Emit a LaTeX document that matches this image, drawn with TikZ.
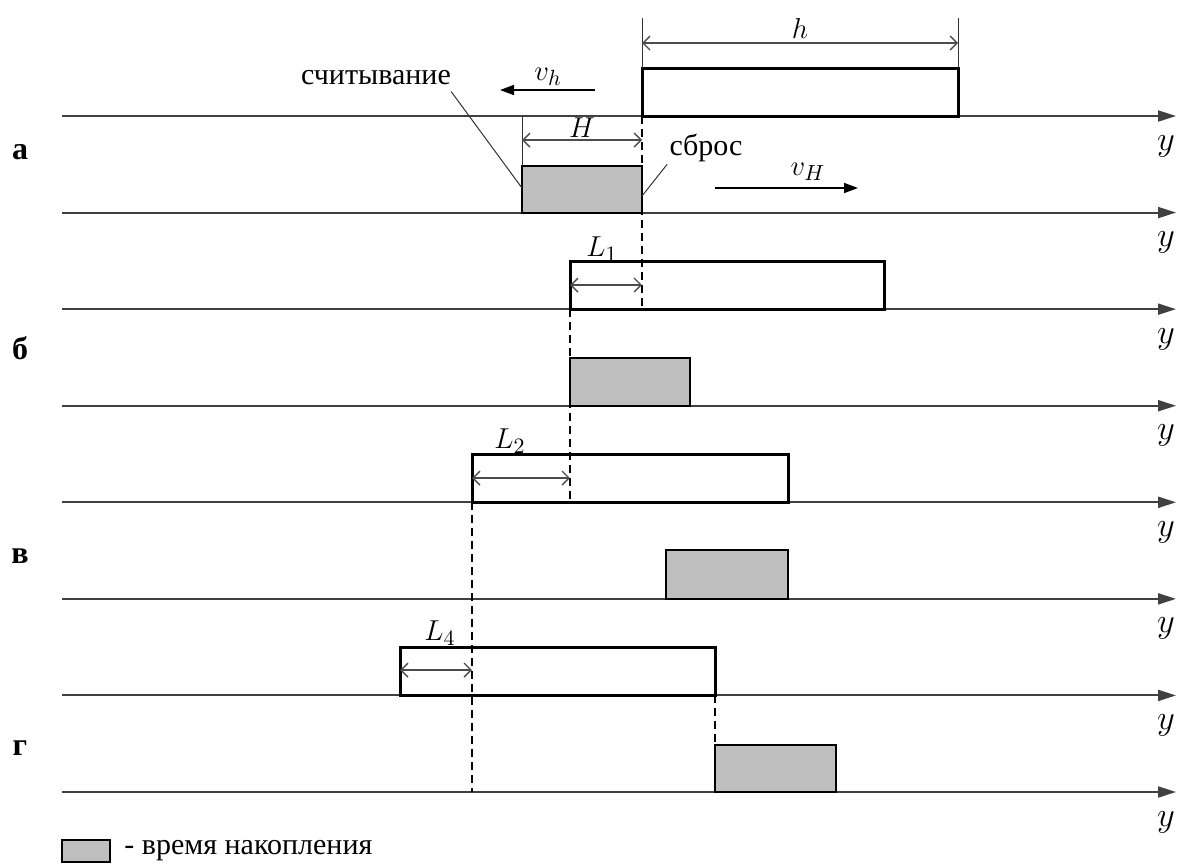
\documentclass[tikz,border=0pt]{standalone}
\usepackage{fontspec}
\setmainfont{Liberation Serif}
\usetikzlibrary{arrows.meta, positioning, calc}

\begin{document}
\begin{tikzpicture}[
    x=0.5pt, y=-0.5pt,
    every node/.style={font=\fontsize{15}{18}\selectfont, inner sep=1pt, text=black},
    axis/.style={line width=1pt, black!75, -{Triangle[length=9pt, width=5.5pt]}},
    window/.style={draw, line width=1.5pt},
    accum/.style={draw, line width=0.7pt, fill=black!25},
    dim/.style={{Straight Barb[length=3.5pt]}-{Straight Barb[length=3.5pt]}, line width=0.7pt, black!70},
    speed/.style={line width=0.8pt, -{Triangle[length=7pt, width=5pt]}},
    guide/.style={dash pattern=on 4pt off 2.5pt, line width=0.7pt},
    leader/.style={line width=0.5pt, black!80},
    rowlabel/.style={font=\fontsize{16}{18}\selectfont\bfseries},
    axlabel/.style={font=\fontsize{16}{18}\selectfont}
]
\useasboundingbox (0,0) rectangle (1186,864);

% Axes with y labels
\foreach \i in {0,...,7} {
    \coordinate (ax\i) at (62,{116+96.57*\i});
    \coordinate (ae\i) at (1176,{116+96.57*\i});
    \draw[axis] (ax\i) -- (ae\i);
    \node[axlabel] (ylab\i) at (1166,{146+96.57*\i}) {$y$};
}

% Row labels
\node[rowlabel] (rowa) at (20,152) {а};
\node[rowlabel] (rowb) at (20,348) {б};
\node[rowlabel] (rowv) at (20,556) {в};
\node[rowlabel] (rowg) at (20,748) {г};

% a: window h
\coordinate (hA) at (642,116);
\coordinate (hB) at (958,68);
\draw[window] (hA) rectangle (hB);
\draw[leader] (642,68) -- (642,18);
\draw[leader] (958,68) -- (958,18);
\coordinate (hdL) at (642,43);
\coordinate (hdR) at (958,43);
\draw[dim] (hdL) -- (hdR) node[midway, above=1pt] (hlab) {$h$};

% a: accumulation H
\coordinate (gaA) at (522,166);
\coordinate (gaB) at (642,213);
\draw[accum] (gaA) rectangle (gaB);
\draw[leader] (522,116) -- (gaA);
\coordinate (HdL) at (522,140);
\coordinate (HdR) at (642,140);
\draw[dim] (HdL) -- (HdR) node[midway, above=0pt] (Hlab) {$H$};
\draw[guide] (hA) -- (642,309);

% a: read and reset
\node (read) at (376,78) {считывание};
\draw[leader] (read.south east) ++(-2,4) -- (522,188);
\node (reset) at (706,148) {сброс};
\draw[leader] (642,196) -- (reset.south west);

% a: speeds
\coordinate (vbS) at (595,90);
\coordinate (vbE) at (500,90);
\draw[speed] (vbS) -- (vbE);
\node (vblab) at (548,77) {$v_h$};
\coordinate (vHS) at (715,188);
\coordinate (vHE) at (858,188);
\draw[speed] (vHS) -- (vHE);
\node (vHlab) at (808,172) {$v_H$};

% b
\draw[window] (570,261) rectangle (884,309);
\draw[dim] (570,285) -- (642,285);
\node (L1lab) at (602,249) {$L_1$};
\draw[guide] (570,309) -- (570,502);
\draw[accum] (570,358) rectangle (690,406);

% v
\draw[window] (472,454) rectangle (788,502);
\draw[dim] (472,478) -- (570,478);
\node (L2lab) at (510,441) {$L_2$};
\draw[guide] (472,502) -- (472,792);
\draw[accum] (666,550) rectangle (788,599);

% g
\draw[window] (400,647) rectangle (715,695);
\draw[dim] (400,670) -- (472,670);
\node (L4lab) at (440,633) {$L_4$};
\draw[guide] (715,695) -- (715,745);
\draw[accum] (715,745) rectangle (836,792);

% Legend
\draw[accum] (62,840) rectangle (110,862);
\node[anchor=west] (legend) at (122,851) {- время накопления};

\end{tikzpicture}
\end{document}
